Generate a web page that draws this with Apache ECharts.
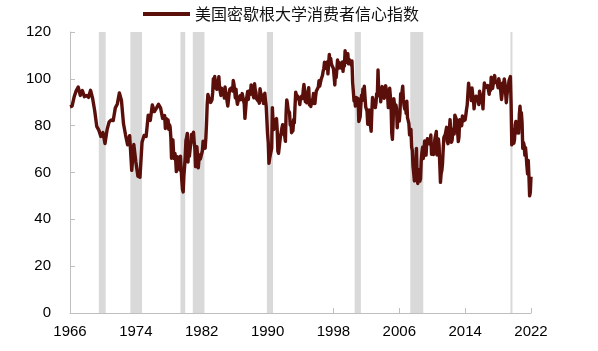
<!DOCTYPE html>
<html>
<head>
<meta charset="utf-8">
<script src="https://cdn.jsdelivr.net/npm/echarts@6/dist/echarts.min.js"></script>
<style>
html, body { margin: 0; padding: 0; background: #fff; }
#chart { width: 598px; height: 351px; }
</style>
</head>
<body>
<div id="chart"></div>
<script>
var seriesName = '美国密歇根大学消费者信心指数';

// 1966Q3 - 1977Q4, quarterly readings
var quarterly1966 = [
    88.0, 88.3,
    92.2, 94.9, 96.5, 92.9,
    95.0, 92.4, 92.9, 92.1,
    95.1, 91.6, 86.4, 79.7,
    78.1, 75.4, 77.1, 72.4,
    78.2, 81.6, 82.4, 82.2,
    87.5, 89.3, 94.0, 90.8,
    80.8, 76.0, 71.8, 75.7,
    60.9, 72.0, 64.5, 58.4,
    58.0, 72.9, 75.8, 75.4,
    84.5, 82.2, 88.8, 86.0,
    87.5, 89.1, 87.6, 83.1
];

// monthly from 1978-01
var monthly1978 = [
    83.7, 84.3, 78.8, 81.6, 82.9, 80.0, 82.4, 78.4, 80.4, 79.3, 75.0, 66.1,
    72.1, 73.9, 68.4, 66.0, 68.1, 65.8, 60.4, 64.5, 66.7, 62.1, 63.3, 61.0,
    67.0, 66.9, 56.5, 52.7, 51.7, 58.7, 62.3, 67.3, 73.7, 75.0, 76.7, 64.5,
    71.4, 66.9, 66.5, 72.4, 76.3, 73.1, 74.1, 77.2, 73.1, 70.3, 62.5, 64.3,
    71.0, 66.5, 62.0, 65.5, 67.5, 65.7, 65.4, 65.4, 69.3, 73.4, 72.1, 71.9,
    70.4, 74.6, 80.8, 89.1, 93.3, 92.2, 92.8, 90.9, 89.9, 89.3, 91.1, 94.2,
    100.1, 97.4, 101.0, 96.1, 98.1, 95.5, 96.6, 99.1, 100.9, 96.3, 95.7, 92.9,
    96.0, 93.7, 93.7, 94.6, 91.8, 96.5, 94.0, 92.4, 92.1, 88.4, 90.9, 93.9,
    95.6, 95.9, 95.1, 96.2, 94.8, 99.3, 97.7, 94.9, 91.9, 95.6, 91.4, 89.1,
    90.4, 90.2, 90.8, 92.8, 91.1, 91.5, 93.7, 94.4, 93.6, 89.3, 83.1, 86.8
];
var monthly1988 = [
    90.8, 91.6, 94.6, 91.2, 94.8, 94.7, 93.4, 97.4, 97.3, 94.1, 93.0, 91.9,
    97.9, 95.4, 94.3, 91.5, 90.7, 90.6, 92.0, 89.6, 95.8, 93.9, 90.9, 90.5,
    93.0, 89.5, 91.3, 93.9, 90.6, 88.3, 88.2, 76.4, 72.8, 63.9, 66.0, 65.5,
    66.8, 70.4, 87.7, 81.8, 78.3, 82.1, 82.9, 82.0, 83.0, 78.3, 69.1, 68.2,
    67.5, 68.8, 76.0, 77.2, 79.2, 80.4, 76.6, 76.1, 75.6, 73.3, 85.3, 91.0,
    89.3, 86.6, 85.9, 85.6, 80.3, 81.5, 77.0, 77.3, 77.9, 82.7, 81.2, 88.2,
    94.3, 93.2, 91.5, 92.6, 92.8, 91.2, 89.0, 91.7, 91.5, 92.7, 91.6, 95.1,
    97.6, 95.1, 90.3, 92.5, 89.8, 92.7, 94.4, 96.2, 88.9, 90.2, 88.2, 91.0,
    89.3, 88.5, 93.7, 92.7, 89.4, 92.4, 94.7, 95.3, 94.7, 96.5, 99.2, 96.9,
    97.4, 99.7, 100.0, 101.4, 103.2, 104.5, 107.1, 104.4, 106.0, 105.6, 107.2, 102.1
];
var monthly1998 = [
    106.6, 110.4, 106.5, 108.7, 106.5, 105.6, 105.2, 104.4, 100.9, 97.4, 102.7, 100.5,
    103.9, 108.1, 105.7, 104.6, 106.8, 107.3, 106.0, 104.5, 107.2, 103.2, 107.2, 105.4,
    112.0, 111.3, 107.1, 109.2, 110.7, 106.4, 108.3, 107.3, 106.8, 105.8, 107.6, 98.4,
    94.7, 90.6, 91.5, 88.4, 92.0, 92.6, 92.4, 91.5, 81.8, 82.7, 83.9, 88.8,
    93.0, 90.7, 95.7, 93.0, 96.9, 92.4, 88.1, 87.6, 86.1, 80.6, 84.2, 86.7,
    82.4, 79.9, 77.6, 86.0, 92.1, 89.7, 90.9, 89.3, 87.7, 89.6, 93.7, 92.6,
    103.8, 94.4, 95.8, 94.2, 90.2, 95.6, 96.7, 95.9, 94.2, 91.7, 92.8, 97.1,
    95.5, 94.1, 92.6, 87.7, 86.9, 96.0, 96.5, 89.1, 76.9, 74.2, 81.6, 91.5,
    91.2, 86.7, 88.9, 87.4, 79.1, 84.9, 84.7, 82.0, 85.4, 93.6, 92.1, 91.7,
    96.9, 91.3, 88.4, 87.1, 88.3, 85.3, 90.4, 83.4, 83.4, 80.9, 76.1, 75.5
];
var monthly2008 = [
    78.4, 70.8, 69.5, 62.6, 59.8, 56.4, 61.2, 63.0, 70.3, 57.6, 55.3, 60.1,
    61.2, 56.3, 57.3, 65.1, 68.7, 70.8, 66.0, 65.7, 73.5, 70.6, 67.4, 72.5,
    74.4, 73.6, 73.6, 72.2, 73.6, 76.0, 67.8, 68.9, 68.2, 67.7, 71.6, 74.5,
    74.2, 77.5, 67.5, 69.8, 74.3, 71.5, 63.7, 55.8, 59.5, 60.8, 63.7, 69.9,
    75.0, 75.3, 76.2, 76.4, 79.3, 73.2, 72.3, 74.3, 78.3, 82.6, 82.7, 72.9,
    73.8, 77.6, 78.6, 76.4, 84.5, 84.1, 85.1, 82.1, 77.5, 73.2, 75.1, 82.5,
    81.2, 81.6, 80.0, 84.1, 81.9, 82.5, 81.8, 82.5, 84.6, 86.9, 88.8, 93.6,
    98.1, 95.4, 93.0, 95.9, 90.7, 96.1, 93.1, 91.9, 87.2, 90.0, 91.3, 92.6,
    92.0, 91.7, 91.0, 89.0, 94.7, 93.5, 90.0, 89.8, 91.2, 87.2, 93.8, 98.2,
    98.5, 96.3, 96.9, 97.0, 97.1, 95.1, 93.4, 96.8, 95.1, 100.7, 98.5, 95.9
];
var monthly2018 = [
    95.7, 99.7, 101.4, 98.8, 98.0, 98.2, 97.9, 96.2, 100.1, 98.6, 97.5, 98.3,
    91.2, 93.8, 98.4, 97.2, 100.0, 98.2, 98.4, 89.8, 93.2, 95.5, 96.8, 99.3,
    99.8, 101.0, 89.1, 71.8, 72.3, 78.1, 72.5, 74.1, 80.4, 81.8, 76.9, 80.7,
    79.0, 76.8, 84.9, 88.3, 82.9, 85.5, 81.2, 70.3, 72.8, 71.7, 67.4, 70.6,
    67.2, 62.8, 59.4, 65.2, 58.4, 50.0, 51.5, 58.2
];

// shaded recession periods (inclusive months)
var recessionStart = ['1970-02', '1973-12', '1980-01', '1981-07', '1990-07', '2001-03', '2007-12', '2020-02'];
var recessionEnd   = ['1970-11', '1975-04', '1980-07', '1982-11', '1991-03', '2001-11', '2009-06', '2020-04'];

var yTicks = [0, 20, 40, 60, 80, 100, 120];

// x is counted in months from 1966-08
function monthIndex(y, m) {
    return (y - 1966) * 12 + (m - 8);
}
function parseMonth(s) {
    var p = s.split('-');
    return monthIndex(+p[0], +p[1]);
}

var lineData = [];
var qMonths = [2, 5, 8, 11];
for (var i = 0; i < quarterly1966.length; i++) {
    var q = i + 2; // starts at Q3
    var yr = 1966 + Math.floor(q / 4);
    lineData.push([monthIndex(yr, qMonths[q % 4]), quarterly1966[i]]);
}
function addMonthly(arr, startYear) {
    for (var j = 0; j < arr.length; j++) {
        lineData.push([monthIndex(startYear + Math.floor(j / 12), j % 12 + 1), arr[j]]);
    }
}
addMonthly(monthly1978, 1978);
addMonthly(monthly1988, 1988);
addMonthly(monthly1998, 1998);
addMonthly(monthly2008, 2008);
addMonthly(monthly2018, 2018);

var areas = [];
for (var k = 0; k < recessionStart.length; k++) {
    areas.push([{ xAxis: parseMonth(recessionStart[k]) }, { xAxis: parseMonth(recessionEnd[k]) + 1 }]);
}

var axisColor = '#bfbfbf';
var labelFont = 'Liberation Sans, Arial, sans-serif';

var chart = echarts.init(document.getElementById('chart'));
var option = {
    animation: false,
    grid: { left: 70, right: 67, top: 32, bottom: 38 },
    legend: {
        data: [seriesName],
        left: 138,
        top: 1,
        icon: 'rect',
        itemWidth: 47,
        itemHeight: 4,
        itemGap: 5,
        textStyle: { fontSize: 16, color: '#111', fontFamily: 'Noto Sans CJK SC' }
    },
    xAxis: {
        type: 'value',
        min: 0,
        max: 672,
        interval: 96,
        axisLine: { lineStyle: { color: axisColor, width: 1 } },
        axisTick: { inside: true, length: 5, lineStyle: { color: axisColor } },
        splitLine: { show: false },
        axisLabel: {
            fontSize: 15,
            color: '#000',
            fontFamily: labelFont,
            margin: 11,
            formatter: function (v) { return 1966 + v / 12; }
        }
    },
    yAxis: {
        type: 'value',
        min: yTicks[0],
        max: yTicks[yTicks.length - 1],
        interval: 20,
        axisLine: { show: true, lineStyle: { color: axisColor, width: 1 } },
        axisTick: { show: true, inside: true, length: 5, lineStyle: { color: axisColor } },
        splitLine: { show: false },
        axisLabel: { fontSize: 15, color: '#000', fontFamily: labelFont, margin: 19 }
    },
    series: [
        {
            name: 'recession',
            type: 'line',
            data: [],
            z: 1,
            silent: true,
            markArea: {
                silent: true,
                itemStyle: { color: '#d9d9d9', opacity: 1 },
                data: areas
            }
        },
        {
            name: seriesName,
            type: 'line',
            z: 3,
            data: lineData,
            showSymbol: false,
            symbol: 'none',
            color: '#5a0f0b',
            lineStyle: { width: 3.4, color: '#5a0f0b', join: 'round' }
        }
    ]
};
chart.setOption(option);
</script>
</body>
</html>
